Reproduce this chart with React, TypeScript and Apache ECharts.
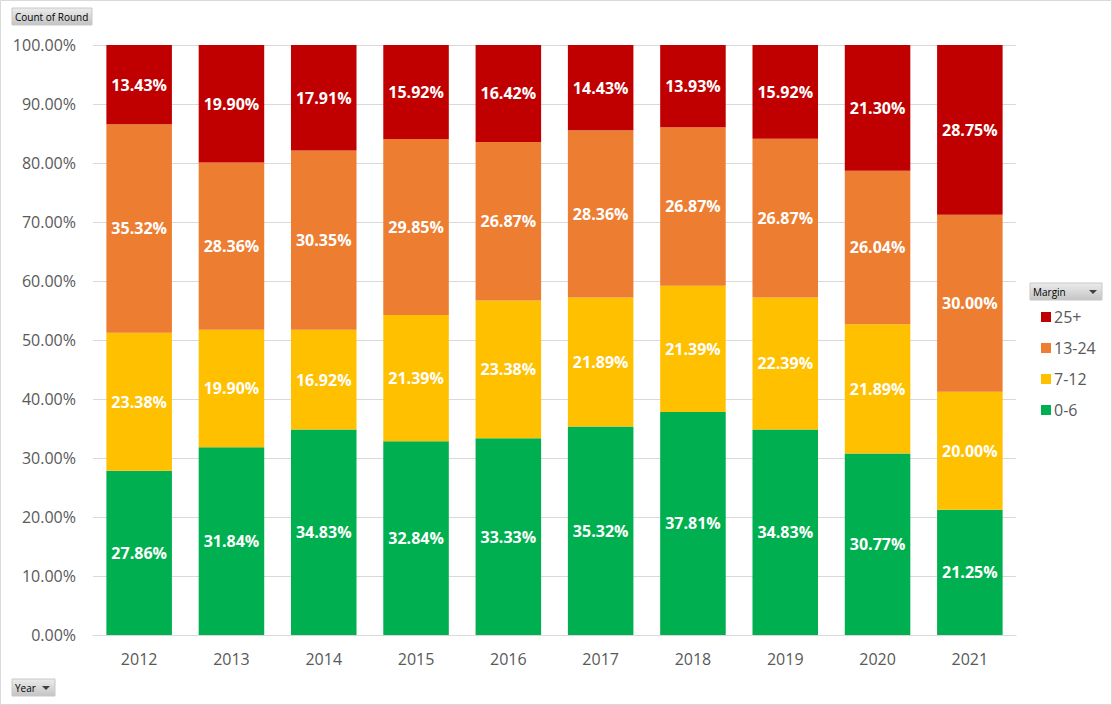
import React, { useEffect, useRef } from "react";
import * as echarts from "echarts";

const years = ["2012", "2013", "2014", "2015", "2016", "2017", "2018", "2019", "2020", "2021"];
const margin0to6 = [27.86, 31.84, 34.83, 32.84, 33.33, 35.32, 37.81, 34.83, 30.77, 21.25];
const margin7to12 = [23.38, 19.90, 16.92, 21.39, 23.38, 21.89, 21.39, 22.39, 21.89, 20.00];
const margin13to24 = [35.32, 28.36, 30.35, 29.85, 26.87, 28.36, 26.87, 26.87, 26.04, 30.00];
const margin25plus = [13.43, 19.90, 17.91, 15.92, 16.42, 14.43, 13.93, 15.92, 21.30, 28.75];
const seriesNames = ["0-6", "7-12", "13-24", "25+"];
const seriesColors = ["#00B050", "#FFC000", "#ED7D31", "#C00000"];

const FONT = "'Open Sans', 'Liberation Sans', sans-serif";

function button(x: number, y: number, w: number, label: string, arrow: boolean) {
  const children: any[] = [
    {
      type: "rect",
      shape: { x: 0, y: 0, width: w, height: 17 },
      style: {
        fill: new echarts.graphic.LinearGradient(0, 0, 0, 1, [
          { offset: 0, color: "#ececec" },
          { offset: 1, color: "#c4c4c4" },
        ]),
        stroke: "#c8c8c8",
        lineWidth: 1,
      },
    },
    {
      type: "text",
      x: 3,
      y: 8.5,
      style: { text: label, fill: "#000", font: `10px ${FONT}`, verticalAlign: "middle" },
    },
  ];
  if (arrow) {
    children.push({
      type: "polygon",
      shape: { points: [[w - 13, 7], [w - 5, 7], [w - 9, 11]] },
      style: { fill: "#404040" },
    });
  }
  return { type: "group", x, y, children };
}

export default function App() {
  const ref = useRef<HTMLDivElement>(null);
  useEffect(() => {
    const chart = echarts.init(ref.current!, null, { renderer: "svg" });
    const data = [margin0to6, margin7to12, margin13to24, margin25plus];
    chart.setOption({
      animation: false,
      backgroundColor: "#fff",
      textStyle: { fontFamily: FONT },
      grid: { left: 93, right: 96, top: 45, bottom: 70 },
      legend: {
        orient: "vertical",
        left: 1036,
        top: 303,
        itemWidth: 10,
        itemHeight: 10,
        itemGap: 13,
        icon: "rect",
        data: ["25+", "13-24", "7-12", "0-6"],
        textStyle: { color: "#595959", fontSize: 16, fontFamily: FONT, padding: [0, 0, 0, -2], lineHeight: 18 },
      },
      xAxis: {
        type: "category",
        data: years,
        axisTick: { show: false },
        axisLine: { lineStyle: { color: "#D9D9D9" } },
        axisLabel: { color: "#595959", fontSize: 16, margin: 16, fontFamily: FONT },
      },
      yAxis: {
        type: "value",
        min: 0,
        max: 100,
        interval: 10,
        axisLabel: {
          color: "#595959",
          fontSize: 16,
          margin: 17,
          fontFamily: FONT,
          formatter: (v: number) => v.toFixed(2) + "%",
        },
        splitLine: { lineStyle: { color: "#D9D9D9" } },
      },
      series: seriesNames.map((name, i) => ({
        name,
        type: "bar",
        stack: "total",
        barWidth: "71%",
        itemStyle: { color: seriesColors[i] },
        data: data[i],
        label: {
          show: true,
          position: "inside",
          color: "#fff",
          fontWeight: "bold",
          fontSize: 16,
          fontFamily: FONT,
          formatter: (p: any) => Number(p.value).toFixed(2) + "%",
        },
      })),
      graphic: [
        {
          type: "rect",
          shape: { x: 0.5, y: 0.5, width: 1111, height: 704 },
          style: { fill: "none", stroke: "#D9D9D9", lineWidth: 1 },
        },
        button(12, 8, 80, "Count of Round", false),
        button(1030, 283, 72, "Margin", true),
        button(12, 679, 43, "Year", true),
      ],
    });
    return () => chart.dispose();
  }, []);
  return (
    <div
      ref={ref}
      style={{ position: "fixed", left: 0, top: 0, width: 1112, height: 705 }}
    />
  );
}
